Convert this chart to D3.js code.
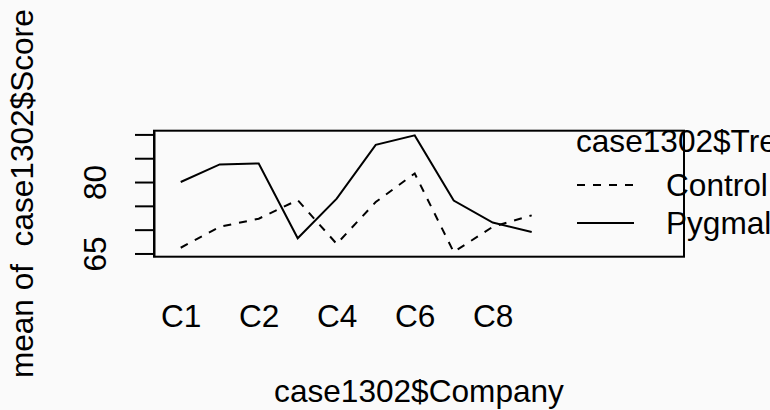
<!DOCTYPE html>
<html>
<head>
<meta charset="utf-8">
<script src="https://cdn.jsdelivr.net/npm/d3@7"></script>
<style>
  html, body { margin: 0; padding: 0; background: #fafafa; }
  svg { display: block; }
  text { font-family: "Liberation Sans", Arial, Helvetica, sans-serif; fill: #000; }
</style>
</head>
<body>
<svg id="chart" width="770" height="410"></svg>
<script>
// Company factor levels in their (alphabetical) factor order
const companies = ["C1", "C10", "C2", "C3", "C4", "C5", "C6", "C7", "C8", "C9"];
// Mean score per company for each treatment group
const controlMeans   = [66.2, 70.6, 72.3, 76.2, 67.0, 75.8, 81.8, 65.3, 70.6, 73.0];
const pygmalionMeans = [80.0, 83.7, 83.9, 68.2, 76.5, 87.8, 89.8, 76.1, 71.5, 69.5];
const treatments = ["Control", "Pygmalion"];
const yTicks = [65, 70, 75, 80, 85, 90];
const yTickLabels = [65, 80];

const W = 770, H = 410;
const FS = 31.6;
const plot = { left: 154, right: 684, top: 130.7, bottom: 256.7 };

const svg = d3.select("#chart");
svg.append("rect").attr("width", W).attr("height", H).attr("fill", "#fafafa");

// x positions 1..n, with extra room on the right for the legend
const x = d3.scaleLinear().domain([0.315, 13.905]).range([plot.left, plot.right]);
// y range = data range padded by 4% on each side
const all = controlMeans.concat(pygmalionMeans);
const lo = d3.min(all), hi = d3.max(all), pad = 0.04 * (hi - lo);
const y = d3.scaleLinear().domain([lo - pad, hi + pad]).range([plot.bottom, plot.top]);

const series = [
  { name: treatments[0], values: controlMeans, dash: "8,8" },
  { name: treatments[1], values: pygmalionMeans, dash: null }
];

const line = d3.line().x((d, i) => x(i + 1)).y(d => y(d));

svg.append("g").selectAll("path").data(series).join("path")
  .attr("d", d => line(d.values))
  .attr("fill", "none")
  .attr("stroke", "#000")
  .attr("stroke-width", 2)
  .attr("stroke-dasharray", d => d.dash);

// frame
svg.append("rect")
  .attr("x", plot.left).attr("y", plot.top)
  .attr("width", plot.right - plot.left).attr("height", plot.bottom - plot.top)
  .attr("fill", "none").attr("stroke", "#000").attr("stroke-width", 2);

// y axis: ticks every 5, labels only where they don't collide
const yAxis = svg.append("g")
  .attr("transform", `translate(${plot.left},0)`)
  .call(d3.axisLeft(y).tickValues(yTicks).tickSizeInner(19).tickSizeOuter(0)
    .tickFormat(d => yTickLabels.includes(d) ? String(d) : ""));
yAxis.select(".domain").attr("stroke", "#000").attr("stroke-width", 2);
yAxis.selectAll(".tick line").attr("stroke", "#000").attr("stroke-width", 2);
yAxis.selectAll(".tick text")
  .attr("x", null).attr("dy", null)
  .attr("text-anchor", "middle")
  .attr("transform", "translate(-48,0) rotate(-90)")
  .style("font-size", FS + "px")
  .style("font-family", "'Liberation Sans', Arial, Helvetica, sans-serif")
  .attr("fill", "#000");

// x axis: company labels, no ticks, every other label shown
const xAxis = svg.append("g")
  .attr("transform", `translate(0,${plot.bottom})`)
  .call(d3.axisBottom(x).tickValues(d3.range(1, companies.length + 1)).tickSize(0)
    .tickFormat((d, i) => i % 2 === 0 ? companies[i] : ""));
xAxis.select(".domain").remove();
xAxis.selectAll(".tick text")
  .attr("y", 70.6).attr("dy", null)
  .style("font-size", FS + "px")
  .style("font-family", "'Liberation Sans', Arial, Helvetica, sans-serif")
  .attr("fill", "#000");

// axis titles
svg.append("text")
  .attr("x", (plot.left + plot.right) / 2).attr("y", 401.7)
  .attr("text-anchor", "middle")
  .style("font-size", FS + "px")
  .text("case1302$Company");

svg.append("text")
  .attr("transform", `translate(33,${(plot.top + plot.bottom) / 2}) rotate(-90)`)
  .attr("text-anchor", "middle")
  .style("font-size", FS + "px")
  .style("white-space", "pre")
  .text("mean of  case1302$Score");

// legend
const leg = svg.append("g");
leg.append("text")
  .attr("x", 576).attr("y", 152)
  .style("font-size", FS + "px")
  .text("case1302$Treat");

const rows = leg.selectAll("g.row").data(series).join("g")
  .attr("class", "row")
  .attr("transform", (d, i) => `translate(0,${185 + i * 38})`);
rows.append("line")
  .attr("x1", 577).attr("x2", 634).attr("y1", 0).attr("y2", 0)
  .attr("stroke", "#000").attr("stroke-width", 2)
  .attr("stroke-dasharray", d => d.dash);
rows.append("text")
  .attr("x", 666).attr("y", 11.3)
  .style("font-size", FS + "px")
  .text(d => d.name);
</script>
</body>
</html>
